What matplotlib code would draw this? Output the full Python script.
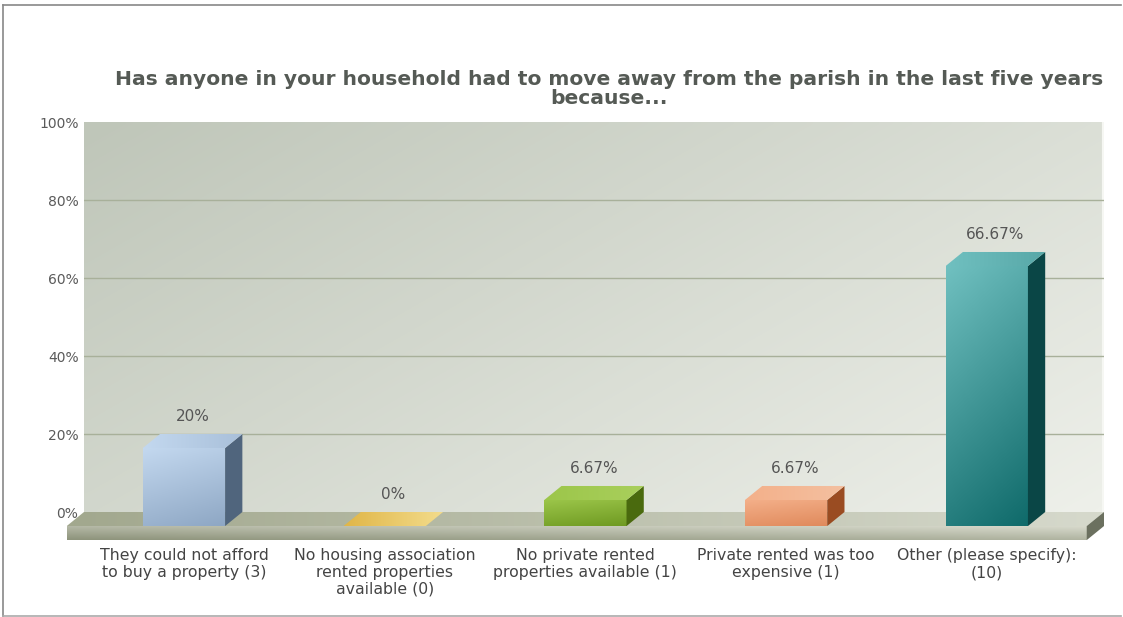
import numpy as np
import matplotlib
matplotlib.use("Agg")
import matplotlib.pyplot as plt
from matplotlib.patches import Polygon
from matplotlib.colors import LinearSegmentedColormap

title = ("Has anyone in your household had to move away from the parish in the last five years\n"
         "because...")
categories = [
    "They could not afford\nto buy a property (3)",
    "No housing association\nrented properties\navailable (0)",
    "No private rented\nproperties available (1)",
    "Private rented was too\nexpensive (1)",
    "Other (please specify):\n(10)",
]
percent = [20, 0, 6.67, 6.67, 66.67]
value_labels = ["20%", "0%", "6.67%", "6.67%", "66.67%"]
yticks = [0, 20, 40, 60, 80, 100]

# bar colours: (front top, front bottom, top face, side face)
bar_colors = [
    ("#c3d8ef", "#8ea7c4", "#a9c0da", "#50657d"),
    ("#f3dc8c", "#e0b648", "#efd27a", "#b08a30"),
    ("#9cc64a", "#6f9a22", "#a9cf5c", "#4a6a0e"),
    ("#f4b08a", "#e08a5c", "#f3c0a0", "#9a4c22"),
    ("#70c0c0", "#0f6a6a", "#58a8a8", "#0a4646"),
]

W = 0.41      # bar front width (category units)
DX = 0.086    # depth offset in x
DY = 3.6      # depth offset in y (percent)
TH = 3.6      # floor slab thickness
XL, XR = -0.498, 4.584

fig = plt.figure(figsize=(11.23, 6.17), dpi=100)
fig.patch.set_facecolor("white")
ax = fig.add_axes([84 / 1123, 1 - 512 / 617, (1104 - 84) / 1123, 390 / 617])
ax.set_facecolor("none")
for s in ax.spines.values():
    s.set_visible(False)


def shade(verts, c_a, c_b, wx=0.0, wy=1.0, z=1):
    # gradient fill clipped to a polygon; value = wx*x + wy*y (0..1), c_a at 0, c_b at 1
    poly = Polygon(verts, closed=True, facecolor="none", edgecolor="none", clip_on=False)
    ax.add_patch(poly)
    xs, ys = zip(*verts)
    gy, gx = np.mgrid[0:1:64j, 0:1:64j]
    g = (wx * gx + wy * gy) / max(abs(wx) + abs(wy), 1e-9)
    g = g - g.min()
    cmap = LinearSegmentedColormap.from_list("g", [c_a, c_b])
    im = ax.imshow(g, cmap=cmap, extent=[min(xs), max(xs), min(ys), max(ys)],
                   origin="lower", aspect="auto", interpolation="bilinear", zorder=z)
    im.set_clip_box(fig.bbox)
    im.set_clip_path(poly)
    return im


# back wall: darker top-left, lighter bottom-right
yy, xx = np.mgrid[0:1:100j, 0:1:200j]
wall = xx * 0.6 + (1 - yy) * 0.4
wall_cmap = LinearSegmentedColormap.from_list("wall", ["#bfc6b9", "#eef0ea"])
ax.imshow(wall, cmap=wall_cmap, extent=[XL, XR, 0, 100], origin="lower",
          aspect="auto", interpolation="bilinear", zorder=0)
ax.plot([XR, XR], [0, 100], color="#f6f7f3", lw=3, zorder=0.5)

for t in yticks[1:-1]:
    ax.plot([XL, XR], [t, t], color="#a8b09a", lw=1, zorder=0.6)

# floor slab
shade([(XL, 0), (XR, 0), (XR - DX, -DY), (XL - DX, -DY)], "#a2a88e", "#d6d9cc", wx=1, wy=0, z=1)
shade([(XL - DX, -DY), (XR - DX, -DY), (XR - DX, -DY - TH), (XL - DX, -DY - TH)],
      "#8d937b", "#dadccf", wx=0.8, wy=1, z=1)
ax.add_patch(Polygon([(XR - DX, -DY), (XR, 0), (XR, -TH), (XR - DX, -DY - TH)],
                     closed=True, facecolor="#6b705f", edgecolor="none", clip_on=False, zorder=1))

# bars
for i, (v, c) in enumerate(zip(percent, bar_colors)):
    x0, x1 = i - W / 2, i + W / 2
    front_t, front_b, top_c, side_c = c
    if v > 0:
        shade([(x0, -DY), (x1, -DY), (x1, v - DY), (x0, v - DY)], front_b, front_t, wx=-0.3, wy=1, z=3)
        ax.add_patch(Polygon([(x1, -DY), (x1 + DX, 0), (x1 + DX, v), (x1, v - DY)],
                             closed=True, facecolor=side_c, edgecolor="none", clip_on=False, zorder=3))
        shade([(x0, v - DY), (x1, v - DY), (x1 + DX, v), (x0 + DX, v)], top_c, front_t,
              wx=-1, wy=0, z=3)
    else:
        shade([(x0, v - DY), (x1, v - DY), (x1 + DX, v), (x0 + DX, v)], front_b, front_t,
              wx=1, wy=0, z=3)
    ax.text(i + DX / 2, v + 4.6, value_labels[i], ha="center", va="center",
            fontsize=11, color="#555555", zorder=4)

ax.set_xlim(XL, XR)
ax.set_ylim(0, 100)
ax.set_yticks(yticks)
ax.set_yticklabels([f"{t}%" for t in yticks], fontsize=10, color="#5a5a5a")
ax.set_xticks(range(len(categories)))
ax.set_xticklabels(categories, fontsize=11.3, color="#444444", linespacing=1.16, va="top")
ax.tick_params(axis="y", length=0, pad=4)
ax.tick_params(axis="x", length=0, pad=26)

fig.text(609 / 1123, 1 - 89 / 617, title, ha="center", va="center", fontsize=14.6,
         fontweight="bold", color="#555a55", linespacing=1.0)

# outer frame
fig.add_artist(plt.Line2D([3 / 1123, 3 / 1123], [1 / 617, 1 - 5 / 617], color="#888888", lw=1.2))
fig.add_artist(plt.Line2D([3 / 1123, 1121 / 1123], [1 - 5 / 617, 1 - 5 / 617], color="#888888", lw=1.2))
fig.add_artist(plt.Line2D([3 / 1123, 1121 / 1123], [1 / 617, 1 / 617], color="#aaaaaa", lw=1.2))

fig.savefig("out.png", dpi=100)
